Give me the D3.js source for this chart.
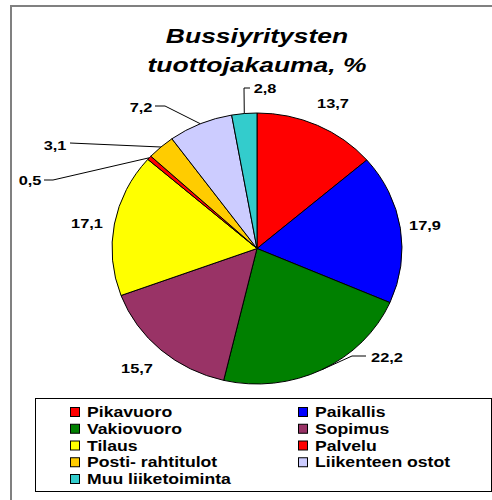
<!DOCTYPE html>
<html>
<head>
<meta charset="utf-8">
<script src="https://cdn.jsdelivr.net/npm/d3@7"></script>
<style>
  body { margin: 0; background: #fff; }
  text { font-family: "Liberation Sans", Arial, sans-serif; font-weight: bold; }
</style>
</head>
<body>
<div id="chart"></div>
<script>
// data
const categories = ["Pikavuoro", "Paikallis", "Vakiovuoro", "Sopimus", "Tilaus",
                    "Palvelu", "Posti- rahtitulot", "Liikenteen ostot", "Muu liiketoiminta"];
const values = [13.7, 17.9, 22.2, 15.7, 17.1, 0.5, 3.1, 7.2, 2.8];
const valueLabels = ["13,7", "17,9", "22,2", "15,7", "17,1", "0,5", "3,1", "7,2", "2,8"];
const colors = ["#ff0000", "#0000ff", "#008000", "#993366", "#ffff00",
                "#ff0000", "#ffcc00", "#ccccff", "#33cccc"];
const titleLines = ["Bussiyritysten", "tuottojakauma, %"];

const width = 492, height = 500;
const cx = 257, cy = 248.5, rx = 145, ry = 135.5; // the pie is a bit wider than tall
const stretch = 1.26; // the original text is drawn wide, like the pie

// where each value label sits, relative to the pie centre (px), plus leader elbows
// leader goes: slice edge -> elbow -> lead (short flat bit next to the text)
const labelPos = [
  { dx: 76, dy: -141 },
  { dx: 168, dy: -19 },
  { dx: 130, dy: 113, elbow: [95, 107.5], lead: [109, 107.5] },
  { dx: -120, dy: 124 },
  { dx: -170, dy: -21 },
  { dx: -227, dy: -63.5, elbow: [-204, -68.5], lead: [-213, -68.5] },
  { dx: -202, dy: -98.5, elbow: [-187, -105.5], lead: [-187, -105.5] },
  { dx: -116, dy: -137, elbow: [-92, -142.5], lead: [-102, -142.5] },
  { dx: 8, dy: -155.5, elbow: [-13, -160.5], lead: [-7, -160.5] }
];

const svg = d3.select("#chart").append("svg")
  .attr("width", width)
  .attr("height", height);

// outer frame (its right and bottom edges fall outside the picture)
svg.append("rect")
  .attr("x", 11).attr("y", 6)
  .attr("width", 520).attr("height", 520)
  .attr("fill", "none")
  .attr("stroke", "#808080")
  .attr("stroke-width", 2);

// title
svg.selectAll("text.title")
  .data(titleLines)
  .join("text")
  .attr("class", "title")
  .attr("transform", (d, i) => `translate(257,${43 + i * 29}) scale(${stretch},1)`)
  .attr("text-anchor", "middle")
  .attr("font-style", "italic")
  .attr("font-size", 21)
  .text(d => d);

// pie
const pie = d3.pie().sort(null).value(d => d);
const arcs = pie(values);
const arc = d3.arc().innerRadius(0).outerRadius(ry);

const pieG = svg.append("g")
  .attr("transform", `translate(${cx},${cy}) scale(${rx / ry},1)`);

pieG.selectAll("path")
  .data(arcs)
  .join("path")
  .attr("d", arc)
  .attr("fill", (d, i) => colors[i])
  .attr("stroke", "#000")
  .attr("stroke-width", 1)
  .attr("vector-effect", "non-scaling-stroke");

// leader lines for the labels that sit away from their slice
const labG = svg.append("g").attr("transform", `translate(${cx},${cy})`);

arcs.forEach((a, i) => {
  const p = labelPos[i];
  if (!p.elbow) return;
  const mid = (a.startAngle + a.endAngle) / 2;
  const ex = Math.sin(mid) * rx, ey = -Math.cos(mid) * ry;
  labG.append("path")
    .attr("d", d3.line()([[ex, ey], p.elbow, p.lead]))
    .attr("fill", "none")
    .attr("stroke", "#000")
    .attr("stroke-width", 1);
});

labG.selectAll("text.val")
  .data(arcs)
  .join("text")
  .attr("class", "val")
  .attr("transform", (d, i) => `translate(${labelPos[i].dx},${labelPos[i].dy}) scale(${stretch},1)`)
  .attr("text-anchor", "middle")
  .attr("font-size", 13)
  .text((d, i) => valueLabels[i]);

// legend
const legend = svg.append("g");
legend.append("rect")
  .attr("x", 35.5).attr("y", 398.5)
  .attr("width", 456).attr("height", 93)
  .attr("fill", "#fff")
  .attr("stroke", "#000")
  .attr("stroke-width", 1);

const colX = [70, 298];
const rowY = d3.scaleLinear().domain([0, 4]).range([412, 479]);

const items = legend.selectAll("g.item")
  .data(categories)
  .join("g")
  .attr("class", "item")
  .attr("transform", (d, i) => `translate(${colX[i % 2]},${rowY(Math.floor(i / 2))})`);

items.append("rect")
  .attr("x", 0.5).attr("y", -4.5)
  .attr("width", 9).attr("height", 9)
  .attr("fill", (d, i) => colors[i])
  .attr("stroke", "#000")
  .attr("stroke-width", 1);

items.append("text")
  .attr("transform", `translate(17,5) scale(${stretch},1)`)
  .attr("font-size", 14)
  .text(d => d);
</script>
</body>
</html>
